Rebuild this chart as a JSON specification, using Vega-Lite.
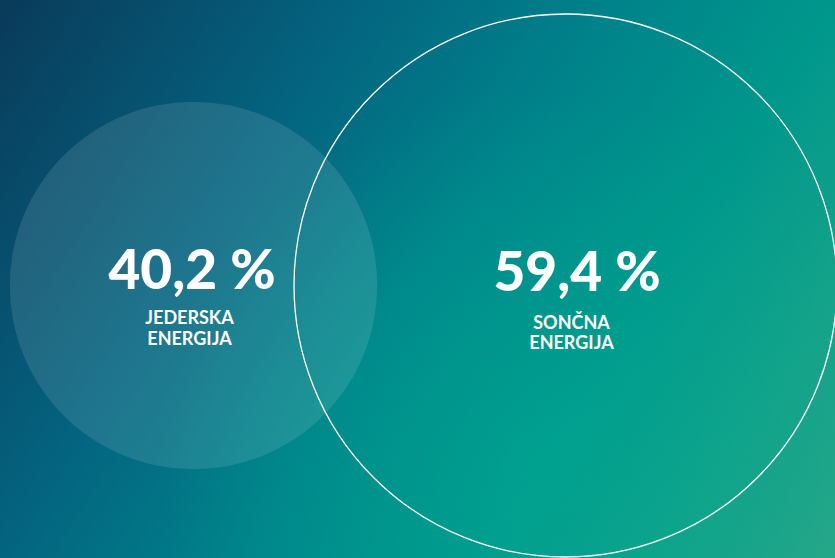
{
  "$schema": "https://vega.github.io/schema/vega-lite/v6.json",
  "width": 835,
  "height": 558,
  "padding": 0,
  "autosize": {"type": "none"},
  "background": "#0a3c5b",
  "config": {
    "view": {"stroke": null},
    "locale": {
      "number": {"decimal": ",", "thousands": ".", "grouping": [3], "currency": ["", " €"], "percent": " %"}
    }
  },
  "datasets": {
    "energy": [
      {"source": "Jedrska energija", "label": "JEDERSKA ENERGIJA", "share": 0.402},
      {"source": "Sončna energija", "label": "SONČNA ENERGIJA", "share": 0.594}
    ]
  },
  "layer": [
    {
      "data": {"values": [{}]},
      "mark": {
        "type": "rect",
        "fill": {
          "gradient": "linear",
          "x1": 0, "y1": 0, "x2": 1.207, "y2": 0.517,
          "stops": [
            {"offset": 0, "color": "#0a3a5a"},
            {"offset": 0.3, "color": "#046480"},
            {"offset": 0.5, "color": "#00818a"},
            {"offset": 0.7, "color": "#00978c"},
            {"offset": 0.85, "color": "#14a289"},
            {"offset": 1, "color": "#2aa687"}
          ]
        }
      },
      "encoding": {}
    },
    {
      "data": {"values": [{}]},
      "mark": {
        "type": "rect",
        "fill": {
          "gradient": "radial",
          "x1": 0.64, "y1": 0.72, "r1": 0,
          "x2": 0.64, "y2": 0.72, "r2": 0.45,
          "stops": [
            {"offset": 0, "color": "rgba(0,168,146,0.55)"},
            {"offset": 1, "color": "rgba(0,168,146,0)"}
          ]
        }
      },
      "encoding": {}
    },
    {
      "data": {"name": "energy"},
      "transform": [{"filter": "datum.source === 'Jedrska energija'"}],
      "mark": {"type": "point", "shape": "circle", "filled": true, "fill": "#ffffff", "fillOpacity": 0.11, "stroke": null, "strokeWidth": 0, "opacity": 1},
      "encoding": {
        "x": {"field": "source", "type": "nominal", "scale": {"domain": ["Jedrska energija", "Sončna energija"], "range": [193.5, 565.5], "padding": 0}, "axis": null},
        "y": {"field": "source", "type": "nominal", "scale": {"domain": ["Jedrska energija", "Sončna energija"], "range": [285.5, 285.5], "padding": 0}, "axis": null},
        "size": {"field": "share", "type": "quantitative", "scale": {"type": "pow", "exponent": 2, "domain": [0, 0.594], "range": [0, 294849]}, "legend": null}
      }
    },
    {
      "data": {"name": "energy"},
      "transform": [{"filter": "datum.source === 'Sončna energija'"}],
      "mark": {"type": "point", "shape": "circle", "filled": false, "fill": null, "stroke": "#ffffff", "strokeWidth": 1.3, "opacity": 1},
      "encoding": {
        "x": {"field": "source", "type": "nominal", "scale": {"domain": ["Jedrska energija", "Sončna energija"], "range": [193.5, 565.5], "padding": 0}, "axis": null},
        "y": {"field": "source", "type": "nominal", "scale": {"domain": ["Jedrska energija", "Sončna energija"], "range": [285.5, 285.5], "padding": 0}, "axis": null},
        "size": {"field": "share", "type": "quantitative", "scale": {"type": "pow", "exponent": 2, "domain": [0, 0.594], "range": [0, 294849]}, "legend": null}
      }
    },
    {
      "data": {"name": "energy"},
      "mark": {"type": "text", "align": "center", "baseline": "alphabetic", "font": "Lato", "fontSize": 55, "fontWeight": 900, "color": "#ffffff"},
      "encoding": {
        "x": {"field": "source", "type": "nominal", "scale": {"domain": ["Jedrska energija", "Sončna energija"], "range": [192, 577], "padding": 0}, "axis": null},
        "y": {"field": "source", "type": "nominal", "scale": {"domain": ["Jedrska energija", "Sončna energija"], "range": [288.5, 290.5], "padding": 0}, "axis": null},
        "text": {"field": "share", "type": "quantitative", "format": ".1%"}
      }
    },
    {
      "data": {"name": "energy"},
      "mark": {"type": "text", "align": "center", "baseline": "alphabetic", "font": "Lato", "fontSize": 18, "fontWeight": "bold", "color": "#ffffff", "lineBreak": " ", "lineHeight": 20.5},
      "encoding": {
        "x": {"field": "source", "type": "nominal", "scale": {"domain": ["Jedrska energija", "Sončna energija"], "range": [189.5, 571.5], "padding": 0}, "axis": null},
        "y": {"field": "source", "type": "nominal", "scale": {"domain": ["Jedrska energija", "Sončna energija"], "range": [324, 328.5], "padding": 0}, "axis": null},
        "text": {"field": "label", "type": "nominal"}
      }
    }
  ],
  "resolve": {"scale": {"x": "independent", "y": "independent"}}
}
